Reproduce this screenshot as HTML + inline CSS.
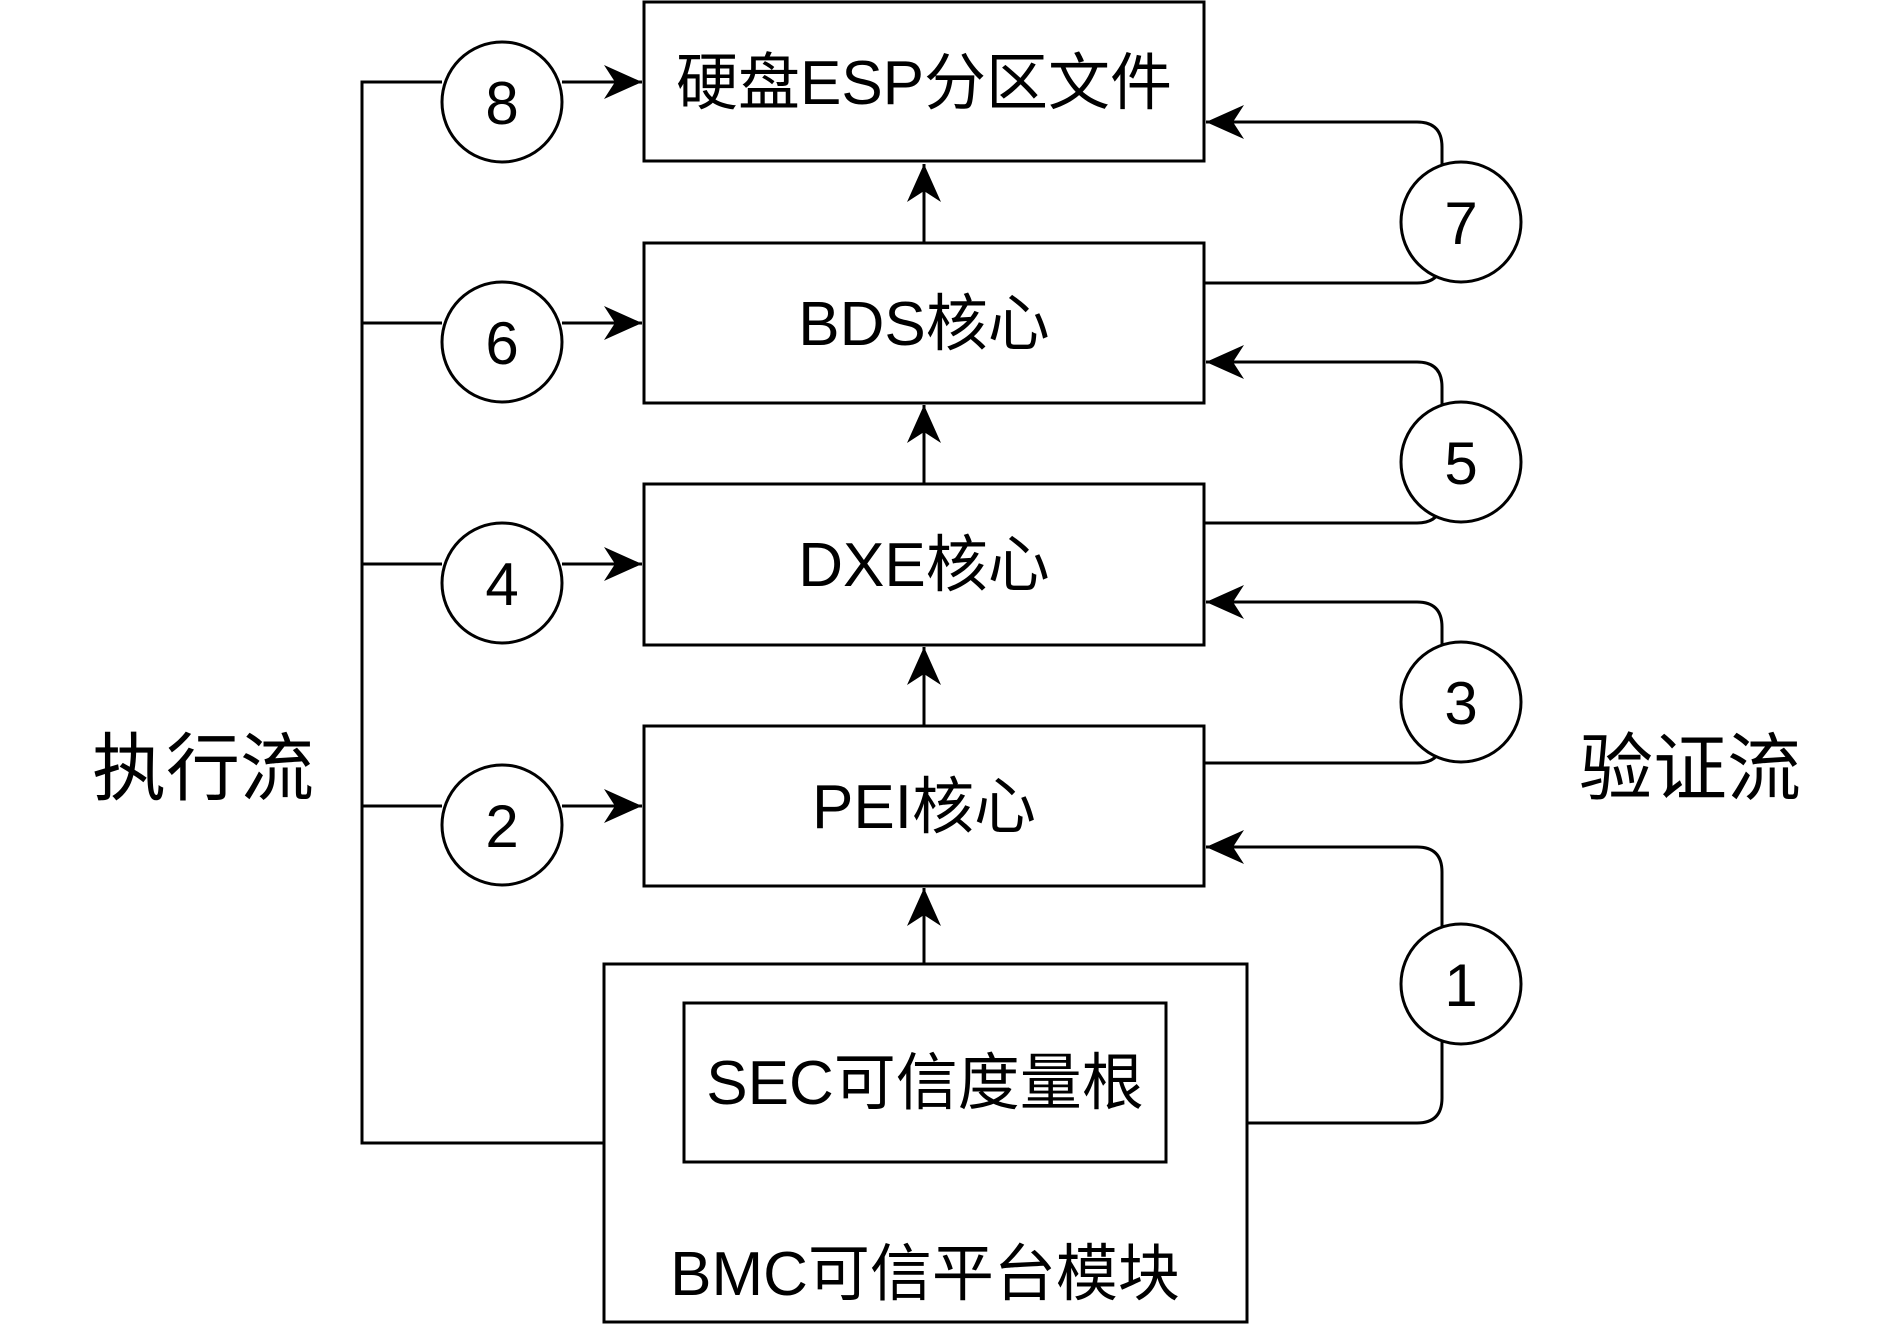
<!DOCTYPE html>
<html><head><meta charset="utf-8"><style>
html,body{margin:0;padding:0;background:#fff;}
svg{display:block;}
text{font-family:"Liberation Sans","Noto Sans CJK SC",sans-serif;fill:#000;}
</style></head><body>
<svg width="1884" height="1324" viewBox="0 0 1884 1324" xmlns="http://www.w3.org/2000/svg">
<defs>
<marker id="b" markerWidth="40" markerHeight="34" refX="38" refY="17" orient="auto" markerUnits="userSpaceOnUse">
<path d="M0,0 L38,17 L0,34 L11,17 Z" fill="#000"/>
</marker>
</defs>
<g fill="none" stroke="#000" stroke-width="3">
<rect x="644" y="2" width="560" height="159" fill="#fff"/>
<rect x="644" y="243" width="560" height="160" fill="#fff"/>
<rect x="644" y="484" width="560" height="161" fill="#fff"/>
<rect x="644" y="726" width="560" height="160" fill="#fff"/>
<rect x="604" y="964" width="643" height="358" fill="#fff"/>
<rect x="684" y="1003" width="482" height="159" fill="#fff"/>
<line x1="924" y1="243" x2="924" y2="164" marker-end="url(#b)"/>
<line x1="924" y1="484" x2="924" y2="405" marker-end="url(#b)"/>
<line x1="924" y1="726" x2="924" y2="647" marker-end="url(#b)"/>
<line x1="924" y1="964" x2="924" y2="888" marker-end="url(#b)"/>
<polyline points="604,1143 362,1143 362,82 442,82"/>
<line x1="362" y1="323" x2="442" y2="323"/>
<line x1="362" y1="564" x2="442" y2="564"/>
<line x1="362" y1="806" x2="442" y2="806"/>
<line x1="562" y1="82" x2="642" y2="82" marker-end="url(#b)"/>
<line x1="562" y1="323" x2="642" y2="323" marker-end="url(#b)"/>
<line x1="562" y1="564" x2="642" y2="564" marker-end="url(#b)"/>
<line x1="562" y1="806" x2="642" y2="806" marker-end="url(#b)"/>
<path d="M1247,1123 L1417,1123 Q1442,1123 1442,1098 L1442,872 Q1442,847 1417,847 L1206,847" marker-end="url(#b)"/>
<path d="M1204,763 L1417,763 Q1442,763 1442,738 L1442,627 Q1442,602 1417,602 L1206,602" marker-end="url(#b)"/>
<path d="M1204,523 L1417,523 Q1442,523 1442,498 L1442,387 Q1442,362 1417,362 L1206,362" marker-end="url(#b)"/>
<path d="M1204,283 L1417,283 Q1442,283 1442,258 L1442,147 Q1442,122 1417,122 L1206,122" marker-end="url(#b)"/>
<g fill="#fff">
<circle cx="502" cy="102" r="60"/>
<circle cx="502" cy="342" r="60"/>
<circle cx="502" cy="583" r="60"/>
<circle cx="502" cy="825" r="60"/>
<circle cx="1461" cy="222" r="60"/>
<circle cx="1461" cy="462" r="60"/>
<circle cx="1461" cy="702" r="60"/>
<circle cx="1461" cy="984" r="60"/>
</g>
</g>
<g font-size="60" text-anchor="middle">
<text x="502" y="124">8</text>
<text x="502" y="364">6</text>
<text x="502" y="605">4</text>
<text x="502" y="847">2</text>
<text x="1461" y="244">7</text>
<text x="1461" y="484">5</text>
<text x="1461" y="724">3</text>
<text x="1461" y="1006">1</text>
</g>
<g font-size="62" text-anchor="middle">
<text x="924" y="104">硬盘ESP分区文件</text>
<text x="924" y="345">BDS核心</text>
<text x="924" y="586">DXE核心</text>
<text x="924" y="828">PEI核心</text>
<text x="925" y="1104">SEC可信度量根</text>
<text x="925" y="1295">BMC可信平台模块</text>
</g>
<g font-size="74" text-anchor="middle">
<text x="203" y="794">执行流</text>
<text x="1690" y="794">验证流</text>
</g>
</svg>
</body></html>
